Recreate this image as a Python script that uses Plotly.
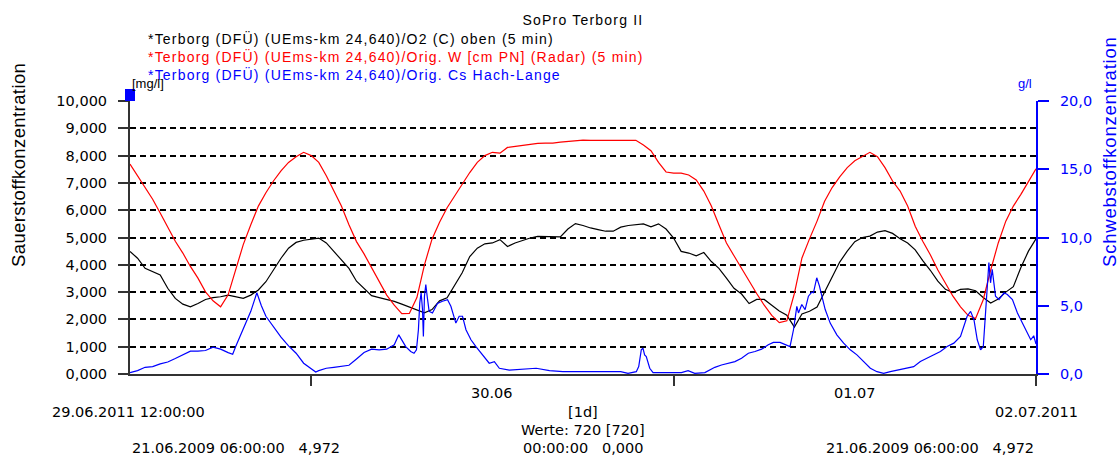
import pandas as pd
import plotly.graph_objects as go

# --- series -------------------------------------------------------------
start = pd.Timestamp("2011-06-29 12:00:00")
end = pd.Timestamp("2011-07-02 00:00:00")

# half-hourly readings, 29.06 12:00 .. 02.07 00:00
o2_mgl = [
    4.49, 4.24, 3.87, 3.75, 3.63, 3.14, 2.77, 2.56, 2.46, 2.58,
    2.73, 2.80, 2.83, 2.89, 2.83, 2.77, 2.89, 3.08, 3.38, 3.81,
    4.24, 4.61, 4.82, 4.90, 4.94, 4.98, 4.80, 4.49, 4.18, 3.87,
    3.40, 3.14, 2.87, 2.80, 2.74, 2.66, 2.56, 2.46, 2.34, 2.24,
    2.36, 2.68, 2.79, 3.26, 3.71, 4.30, 4.61, 4.77, 4.80, 4.92,
    4.67, 4.80, 4.90, 4.98, 5.04, 5.04, 5.02, 5.02, 5.31, 5.51,
    5.44, 5.35, 5.29, 5.23, 5.23, 5.38, 5.44, 5.47, 5.50, 5.39,
    5.50, 5.31, 4.98, 4.49, 4.43, 4.33, 4.45, 4.12, 3.87, 3.51,
    3.14, 2.93, 2.58, 2.73, 2.73, 2.52, 2.31, 2.15, 1.72, 2.20,
    2.30, 2.45, 3.00, 3.50, 4.10, 4.50, 4.85, 5.00, 5.05, 5.20,
    5.25, 5.15, 4.95, 4.80, 4.55, 4.15, 3.80, 3.40, 3.10, 2.98,
    3.10, 3.12, 3.05, 2.80, 2.60, 2.75, 3.00, 3.20, 3.90, 4.50,
    4.95,
]

water_level = [
    7.69, 7.26, 6.86, 6.40, 5.90, 5.39, 4.86, 4.43, 3.94, 3.51,
    3.01, 2.68, 2.46, 2.90, 3.87, 4.74, 5.47, 6.15, 6.64, 7.07,
    7.44, 7.75, 7.96, 8.12, 8.00, 7.75, 7.26, 6.70, 6.15, 5.47,
    4.85, 4.40, 3.91, 3.38, 2.89, 2.52, 2.21, 2.22, 2.80, 4.00,
    4.94, 5.56, 6.09, 6.52, 6.95, 7.38, 7.75, 8.00, 8.12, 8.09,
    8.30, 8.34, 8.39, 8.43, 8.45, 8.46, 8.46, 8.49, 8.52, 8.55,
    8.57, 8.56, 8.56, 8.56, 8.56, 8.56, 8.56, 8.56, 8.39, 8.18,
    7.75, 7.40, 7.36, 7.36, 7.29, 7.11, 6.70, 6.15, 5.47, 4.80,
    4.33, 3.87, 3.38, 2.95, 2.52, 2.15, 1.88, 1.95, 2.95, 4.25,
    4.95, 5.60, 6.33, 6.83, 7.22, 7.56, 7.81, 7.97, 8.12, 7.96,
    7.56, 7.07, 6.70, 6.15, 5.41, 4.86, 4.37, 3.81, 3.32, 2.85,
    2.46, 2.15, 2.03, 2.71, 3.81, 4.80, 5.60, 6.15, 6.58, 7.07,
    7.52,
]

# suspended solids, hours after start and g/l
cs_hours = [
    0, 0.5, 1, 1.5, 2, 2.5, 3, 3.5, 4, 4.5, 5, 5.5, 6, 6.5, 6.8, 7, 7.5, 8,
    8.4, 8.7, 9, 9.5, 10, 10.5, 11, 11.5, 12, 12.3, 12.5, 13, 13.5, 14, 14.5,
    15, 15.5, 16, 16.5, 17, 17.5, 17.8, 18.0, 18.26, 18.59, 18.81, 18.97,
    19.1, 19.19, 19.28, 19.37, 19.43, 19.5, 19.59, 19.68, 19.81, 20.03,
    20.36, 20.69, 21.03, 21.25, 21.47, 21.58, 21.8, 22.02, 22.25, 22.58,
    22.91, 23.24, 23.57, 23.79, 24.13, 24.46, 25.12, 26.0, 26.9, 27.78,
    28.67, 30.0, 31.2, 32.5, 32.98, 33.53, 33.69, 33.86, 33.97, 34.08,
    34.19, 34.42, 34.64, 35.63, 36.52, 36.96, 37.4, 38.07, 38.73, 39.17,
    39.62, 40.06, 40.5, 40.95, 41.39, 41.83, 42.27, 42.61, 43.05, 43.38,
    43.71, 43.94, 44.16, 44.27, 44.49, 44.71, 44.93, 45.15, 45.26, 45.48,
    45.66, 45.82, 46.04, 46.37, 46.81, 47.26, 47.7, 48.14, 48.58, 49.03,
    49.47, 49.91, 50.35, 50.79, 51.46, 51.9, 52.34, 52.79, 53.23, 53.67,
    54.11, 54.56, 55.0, 55.22, 55.44, 55.67, 55.89, 56.11, 56.33, 56.51,
    56.67, 56.77, 56.88, 56.99, 57.1, 57.21, 57.32, 57.55, 57.88, 58.1,
    58.44, 58.77, 59.1, 59.43, 59.65, 59.85, 60.0,
]
cs_gl = [
    0.10, 0.25, 0.49, 0.54, 0.74, 0.88, 1.13, 1.43, 1.67, 1.67, 1.72, 1.97,
    1.82, 1.57, 1.45, 2.01, 3.24, 4.59, 5.95, 5.00, 4.23, 3.49, 2.70, 2.06,
    1.52, 0.79, 0.42, 0.15, 0.25, 0.42, 0.49, 0.54, 0.64, 1.10, 1.57, 1.82,
    1.77, 1.82, 2.14, 2.87, 2.50, 2.01, 1.65, 1.52, 1.77, 3.24, 5.21, 5.95,
    4.72, 2.75, 5.70, 6.56, 5.70, 4.59, 4.47, 5.16, 5.33, 5.45, 4.96, 4.23,
    3.73, 4.23, 4.23, 3.24, 2.51, 2.01, 1.52, 1.03, 0.79, 0.91, 0.42, 0.29,
    0.34, 0.42, 0.25, 0.17, 0.17, 0.17, 0.17, 0.05, 0.17, 0.54, 1.77, 1.89,
    1.40, 1.28, 0.42, 0.10, 0.10, 0.10, 0.25, 0.05, 0.10, 0.49, 0.66, 0.79,
    0.91, 1.15, 1.52, 1.65, 1.82, 2.14, 2.31, 2.31, 2.14, 2.01, 3.24, 4.96,
    4.47, 5.09, 4.72, 5.70, 6.00, 5.95, 7.05, 6.44, 5.70, 4.72, 3.73, 2.87,
    2.26, 1.77, 1.40, 0.91, 0.42, 0.17, 0.05, 0.17, 0.29, 0.42, 0.54, 0.91,
    1.15, 1.40, 1.65, 2.01, 2.26, 2.75, 3.49, 4.23, 4.59, 3.98, 2.51, 1.77,
    2.01, 4.72, 6.68, 8.16, 6.68, 7.67, 6.68, 5.70, 5.45, 5.95, 5.82, 5.45,
    4.47, 3.73, 3.00, 2.51, 2.80, 2.20,
]

series_names = [
    "*Terborg (DFÜ) (UEms-km 24,640)/O2 (C) oben (5 min)",
    "*Terborg (DFÜ) (UEms-km 24,640)/Orig. W [cm PN] (Radar) (5 min)",
    "*Terborg (DFÜ) (UEms-km 24,640)/Orig. Cs Hach-Lange",
]
series_colors = ["#000000", "#ff0000", "#0000ff"]

day_ticks = ["2011-06-30", "2011-07-01", "2011-07-02"]
day_labels = ["30.06", "01.07"]

half_hour_times = pd.date_range(start, periods=len(o2_mgl), freq="30min")
cs_times = [start + pd.Timedelta(hours=h) for h in cs_hours]


def spaced(text, px):
    """Wrap text in a span with extra letter spacing."""
    return f'<span style="letter-spacing:{px}px">{text}</span>'


# --- figure -------------------------------------------------------------
TICK_FONT = dict(family="DejaVu Sans", size=14.5, color="#000000")
TEXT_FONT = dict(family="Liberation Sans", size=14)

fig = go.Figure()
fig.add_trace(go.Scatter(x=half_hour_times, y=o2_mgl, mode="lines",
                         name=series_names[0],
                         line=dict(color=series_colors[0], width=1.2)))
fig.add_trace(go.Scatter(x=half_hour_times, y=water_level, mode="lines",
                         name=series_names[1],
                         line=dict(color=series_colors[1], width=1.2)))
fig.add_trace(go.Scatter(x=cs_times, y=cs_gl, mode="lines",
                         name=series_names[2], yaxis="y2",
                         line=dict(color=series_colors[2], width=1.2)))

fig.update_layout(
    width=1119, height=458,
    margin=dict(l=130, r=83, t=101, b=84),
    paper_bgcolor="white", plot_bgcolor="white",
    showlegend=False,
    separators=",.",
    title=dict(text=spaced("SoPro Terborg II", 1.2), x=0.5, xref="paper",
               xanchor="center", y=1 - 20 / 458, yref="container",
               yanchor="middle",
               font=dict(family="Liberation Sans", size=14, color="#000000")),
    xaxis=dict(type="date", range=[start, end], tickvals=day_ticks,
               ticks="outside", ticklen=10, tickwidth=1.5, tickcolor="#333333",
               showticklabels=False, showline=True, linecolor="#333333",
               linewidth=2, showgrid=False, zeroline=False),
    yaxis=dict(range=[0, 10], tickvals=list(range(0, 11)), tickformat=".3f",
               ticks="outside", ticklen=10, tickwidth=1.5, tickcolor="#333333",
               tickfont=TICK_FONT, ticklabelstandoff=8,
               showline=True, linecolor="#333333", linewidth=2,
               showgrid=True, gridcolor="#000000", gridwidth=1.6,
               griddash="6px,4px", zeroline=False),
    yaxis2=dict(range=[0, 20], tickvals=[0, 5, 10, 15, 20], tickformat=".1f",
                overlaying="y", side="right",
                ticks="outside", ticklen=11, tickwidth=1.5, tickcolor="#0000ff",
                tickfont=dict(family="DejaVu Sans", size=14.5, color="#0000ff"),
                ticklabelstandoff=8,
                showline=True, linecolor="#0000ff", linewidth=2,
                showgrid=False, zeroline=False),
)

# series captions above the plot
caption_rows = [38.5, 57, 75]
for name, color, ypx in zip(series_names, series_colors, caption_rows):
    fig.add_annotation(text=spaced(name, 1.2), xref="paper", yref="paper",
                       x=(146 - 130) / 906, y=(374 - ypx) / 273,
                       xanchor="left", yanchor="middle", showarrow=False,
                       font=dict(TEXT_FONT, color=color))

# unit labels
fig.add_annotation(text="[mg/l]", xref="paper", yref="paper", x=0, y=(374 - 83) / 273,
                   xanchor="left", yanchor="middle", showarrow=False,
                   font=dict(family="Liberation Sans", size=13, color="#000000"))
fig.add_annotation(text="g/l", xref="paper", yref="paper", x=(1034 - 130) / 906,
                   y=(374 - 83) / 273, xanchor="right", yanchor="middle",
                   showarrow=False,
                   font=dict(family="Liberation Sans", size=13, color="#0000ff"))

# axis titles
fig.add_annotation(text=spaced("Sauerstoffkonzentration", 0.4), xref="paper",
                   yref="paper", x=(18 - 130) / 906, y=(374 - 165) / 273,
                   textangle=-90, xanchor="center", yanchor="middle",
                   showarrow=False,
                   font=dict(family="Liberation Sans", size=18.5, color="#000000"))
fig.add_annotation(text=spaced("Schwebstoffkonzentration", 0.8), xref="paper",
                   yref="paper", x=(1109 - 130) / 906, y=(374 - 152) / 273,
                   textangle=-90, xanchor="center", yanchor="middle",
                   showarrow=False,
                   font=dict(family="Liberation Sans", size=18.5, color="#0000ff"))

# day labels centred on each day
for day, label in zip(day_ticks[:2], day_labels):
    fig.add_annotation(text=label, x=pd.Timestamp(day) + pd.Timedelta(hours=12),
                       xref="x", yref="paper", y=(374 - 393) / 273,
                       xanchor="center", yanchor="middle", showarrow=False,
                       font=TICK_FONT)

NB = "\u00a0"
footer = [
    ("29.06.2011 12:00:00", (50 - 130) / 906, 412, "left"),
    ("[1d]", 0.5, 412, "center"),
    ("02.07.2011", 1.0, 412, "center"),
    ("Werte: 720 [720]", 0.5, 430, "center"),
    ("21.06.2009 06:00:00" + NB * 3 + "4,972", 0.0, 448, "left"),
    ("00:00:00" + NB * 3 + "0,000", 0.5, 448, "center"),
    ("21.06.2009 06:00:00" + NB * 3 + "4,972", 1.0, 448, "right"),
]
for text, xp, ypx, anchor in footer:
    fig.add_annotation(text=text, xref="paper", yref="paper", x=xp,
                       y=(374 - ypx) / 273, xanchor=anchor, yanchor="middle",
                       showarrow=False, font=TICK_FONT)

# marker square at the top of the left axis
fig.add_shape(type="rect", xref="paper", yref="paper",
              xsizemode="pixel", ysizemode="pixel", xanchor=0, yanchor=1,
              x0=-5, x1=5, y0=0, y1=12,
              fillcolor="#0000ff", line=dict(color="#0000ff", width=0))

fig.write_html("out.html")
